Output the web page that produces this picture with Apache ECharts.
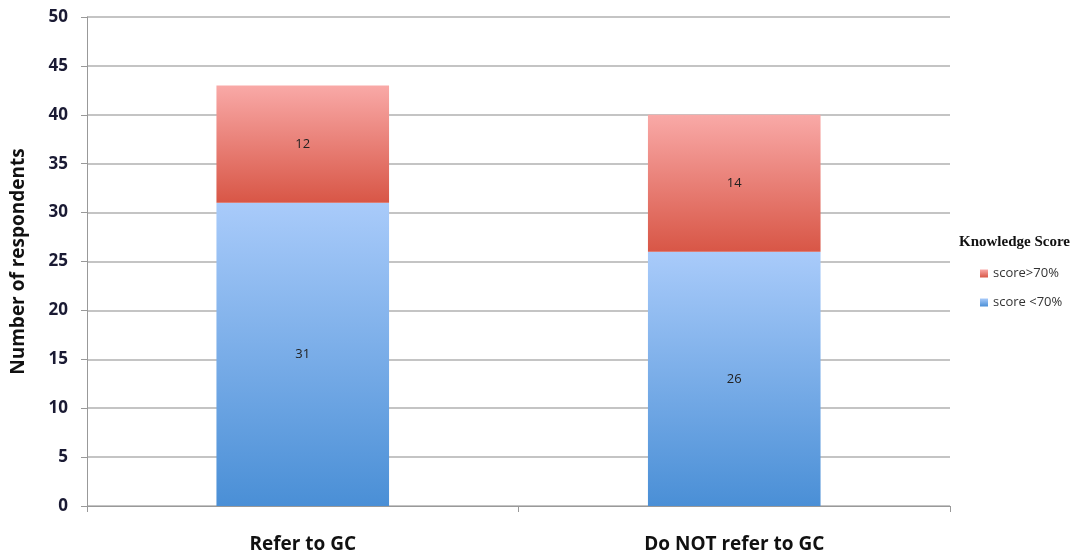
<!DOCTYPE html>
<html>
<head>
<meta charset="utf-8">
<script src="https://cdn.jsdelivr.net/npm/echarts@6/dist/echarts.min.js"></script>
<style>html,body{margin:0;padding:0;background:#fff}#c{width:1086px;height:557px}</style>
</head>
<body>
<div id="c"></div>
<script>
const categories = ['Refer to GC', 'Do NOT refer to GC'];
const lowScore = [31, 26];
const highScore = [12, 14];
const seriesNames = ['score <70%', 'score>70%'];
const legendTitle = 'Knowledge Score';
const yAxisName = 'Number of respondents';

const chart = echarts.init(document.getElementById('c'));
function grad(top, bottom) {
  return new echarts.graphic.LinearGradient(0, 0, 0, 1, [
    {offset: 0, color: top}, {offset: 1, color: bottom}
  ]);
}
const labelStyle = {show: true, position: 'inside', color: '#222', fontSize: 13, fontFamily: 'Open Sans'};
chart.setOption({
  animation: false,
  backgroundColor: '#fff',
  grid: {left: 87, right: 136, top: 17, bottom: 51},
  legend: {
    orient: 'vertical', left: 975, top: 262, itemWidth: 8, itemHeight: 8, itemGap: 16,
    data: [seriesNames[1], seriesNames[0]],
    textStyle: {fontSize: 13, color: '#333', fontFamily: 'Open Sans'},
    icon: 'rect'
  },
  graphic: [{
    type: 'text', left: 959, top: 235,
    style: {text: legendTitle, font: 'bold 15px "Liberation Serif"', fill: '#111'}
  }],
  xAxis: {
    type: 'category', data: categories,
    axisLine: {lineStyle: {color: '#999', width: 1}},
    axisTick: {show: true, length: 6, lineStyle: {color: '#999'}},
    axisLabel: {fontSize: 19, fontWeight: 'bold', color: '#111', margin: 29, fontFamily: 'Open Sans'}
  },
  yAxis: {
    type: 'value', min: 0, max: 50, interval: 5,
    name: yAxisName, nameLocation: 'middle', nameGap: 59,
    nameTextStyle: {fontSize: 19, fontWeight: 'bold', color: '#111', fontFamily: 'Open Sans'},
    axisLine: {show: true, lineStyle: {color: '#999'}},
    axisTick: {show: true, length: 6, lineStyle: {color: '#999'}},
    axisLabel: {fontSize: 17, fontWeight: 'bold', color: '#1a1a33', margin: 19, fontFamily: 'Open Sans'},
    splitLine: {lineStyle: {color: '#c4c4c4', width: 2}}
  },
  series: [
    {
      name: seriesNames[0], type: 'bar', stack: 's', data: lowScore, barWidth: '40%',
      itemStyle: {color: grad('#a9cbfa', '#4a8fd6')},
      label: labelStyle
    },
    {
      name: seriesNames[1], type: 'bar', stack: 's', data: highScore, barWidth: '40%',
      itemStyle: {color: grad('#f9a9a7', '#d85646')},
      label: labelStyle
    }
  ]
});
</script>
</body>
</html>
